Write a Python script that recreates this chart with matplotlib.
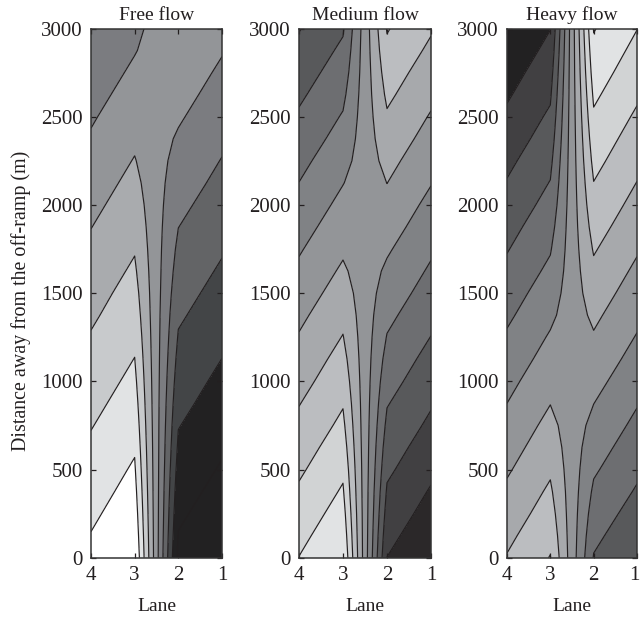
#!/usr/bin/env python3
import numpy as np
import matplotlib
matplotlib.use("Agg")
import matplotlib.pyplot as plt
from matplotlib.transforms import ScaledTranslation

plt.rcParams['font.family'] = ['Liberation Serif', 'DejaVu Serif']

# lane numbers and distance rows of the contour grid
lanes = [4, 3, 2, 1]
distance = [0, 125, 250, 375, 500, 625, 750, 875, 1000, 1125, 1250, 1375, 1500,
            1625, 1750, 1875, 2000, 2125, 2250, 2375, 2500, 2625, 2750, 2875, 3000]
y_ticks = [0, 500, 1000, 1500, 2000, 2500, 3000]
titles = ["Free flow", "Medium flow", "Heavy flow"]

free_flow = [
    [8.26, 8.04, 7.82, 7.60, 7.39, 7.17, 6.95, 6.73, 6.51, 6.29, 6.07, 5.85, 5.64,
     5.42, 5.20, 4.98, 4.76, 4.54, 4.32, 4.10, 3.89, 3.67, 3.45, 3.23, 3.01],
    [9.00, 8.78, 8.56, 8.34, 8.12, 7.90, 7.68, 7.46, 7.24, 7.02, 6.80, 6.58, 6.37,
     6.15, 5.93, 5.71, 5.49, 5.27, 5.05, 4.83, 4.61, 4.39, 4.17, 3.95, 3.73],
    [-0.27, -0.05, 0.17, 0.39, 0.61, 0.83, 1.04, 1.26, 1.48, 1.70, 1.92, 2.14, 2.36,
     2.58, 2.79, 3.01, 3.23, 3.45, 3.67, 3.89, 4.11, 4.33, 4.54, 4.76, 4.98],
    [-0.98, -0.76, -0.54, -0.32, -0.10, 0.12, 0.34, 0.56, 0.77, 0.99, 1.21, 1.43, 1.65,
     1.87, 2.09, 2.31, 2.53, 2.75, 2.96, 3.18, 3.40, 3.62, 3.84, 4.06, 4.28],
]
medium_flow = [
    [10.02, 9.73, 9.43, 9.14, 8.84, 8.55, 8.25, 7.96, 7.66, 7.37, 7.07, 6.78, 6.48,
     6.19, 5.90, 5.60, 5.31, 5.01, 4.72, 4.42, 4.13, 3.83, 3.54, 3.24, 2.95],
    [10.99, 10.70, 10.41, 10.11, 9.82, 9.52, 9.22, 8.93, 8.63, 8.34, 8.04, 7.75, 7.45,
     7.15, 6.85, 6.56, 6.26, 5.97, 5.67, 5.37, 5.08, 4.78, 4.48, 4.19, 3.89],
    [1.99, 2.29, 2.59, 2.88, 3.18, 3.47, 3.77, 4.06, 4.36, 4.65, 4.95, 5.24, 5.54,
     5.83, 6.12, 6.42, 6.71, 7.01, 7.30, 7.60, 7.89, 8.19, 8.48, 8.78, 9.07],
    [1.03, 1.32, 1.62, 1.91, 2.21, 2.50, 2.80, 3.09, 3.39, 3.68, 3.98, 4.27, 4.57,
     4.86, 5.15, 5.45, 5.74, 6.04, 6.33, 6.63, 6.92, 7.22, 7.51, 7.81, 8.10],
]
heavy_flow = [
    [10.06, 9.77, 9.47, 9.18, 8.88, 8.59, 8.30, 8.00, 7.71, 7.41, 7.12, 6.82, 6.53,
     6.23, 5.94, 5.65, 5.35, 5.06, 4.77, 4.47, 4.18, 3.88, 3.59, 3.30, 3.01],
    [11.04, 10.75, 10.45, 10.16, 9.86, 9.57, 9.28, 8.98, 8.69, 8.39, 8.10, 7.80, 7.51,
     7.21, 6.92, 6.63, 6.33, 6.04, 5.75, 5.45, 5.16, 4.86, 4.57, 4.27, 3.98],
    [5.94, 6.23, 6.53, 6.83, 7.13, 7.42, 7.72, 8.01, 8.31, 8.61, 8.91, 9.20, 9.50,
     9.79, 10.09, 10.39, 10.69, 10.98, 11.28, 11.57, 11.87, 12.17, 12.47, 12.76, 13.06],
    [5.02, 5.31, 5.60, 5.90, 6.19, 6.48, 6.77, 7.06, 7.35, 7.65, 7.94, 8.23, 8.52,
     8.81, 9.10, 9.40, 9.69, 9.98, 10.27, 10.56, 10.85, 11.15, 11.44, 11.73, 12.02],
]

# contour levels and the gray of every band, darkest first
free_levels = [0, 1, 2, 3, 4, 5, 6, 7, 8]
free_colors = ['#222122', '#222122', '#434547', '#636466', '#7b7c80', '#939598',
               '#a9abae', '#c8cacc', '#e1e3e4', '#ffffff']
medium_levels = [2, 3, 4, 5, 6, 7, 8, 9, 10]
medium_colors = ['#2b2829', '#414042', '#58595b', '#6d6e71', '#808285', '#939598',
                 '#a7a9ac', '#bbbdc0', '#d1d3d4', '#e1e3e4']
heavy_levels = [4, 5, 6, 7, 8, 9, 10, 11, 12, 13]
heavy_colors = ['#222122', '#414042', '#58595b', '#6d6e71', '#808285', '#939598',
                '#a7a9ac', '#bbbdc0', '#d1d3d4', '#e1e3e4', '#f1f2f2']

panels = [
    (free_flow, free_levels, free_colors, 91, 222),
    (medium_flow, medium_levels, medium_colors, 299, 431),
    (heavy_flow, heavy_levels, heavy_colors, 507, 637),
]

W, H = 640, 620
top, bottom = 28.5, 557.7
ink = '#231f20'

fig = plt.figure(figsize=(W / 100, H / 100), dpi=100)

for i, (values, levels, colors, left, right) in enumerate(panels):
    ax = fig.add_axes([left / W, (H - bottom) / H, (right - left) / W, (bottom - top) / H])
    Z = np.array(values).T
    ax.contourf(lanes, distance, Z, levels=levels, colors=colors, extend='both')
    ax.contour(lanes, distance, Z, levels=levels, colors=ink, linewidths=0.85)

    ax.set_xlim(4, 1)
    ax.set_ylim(0, 3000)
    ax.set_xticks(lanes)
    ax.set_yticks(y_ticks)
    ax.tick_params(direction='in', top=True, right=True, length=3.5, width=0.9,
                   color=ink, labelcolor=ink, labelsize=15, pad=6)
    for spine in ax.spines.values():
        spine.set_linewidth(1.1)
        spine.set_color('#333333')
    ax.set_title(titles[i], fontsize=14, color=ink, pad=6)
    ax.set_xlabel("Lane", fontsize=14, color=ink, labelpad=9)

    if i == 0:
        ax.set_ylabel("Distance away from the off-ramp (m)", fontsize=14.4, color=ink,
                      labelpad=7, y=0.485)
    if i == 2:
        # keep the last lane label inside the figure edge
        label = ax.get_xticklabels()[-1]
        label.set_transform(label.get_transform() + ScaledTranslation(-2 / 72, 0, fig.dpi_scale_trans))

fig.savefig("out.png", dpi=100)
